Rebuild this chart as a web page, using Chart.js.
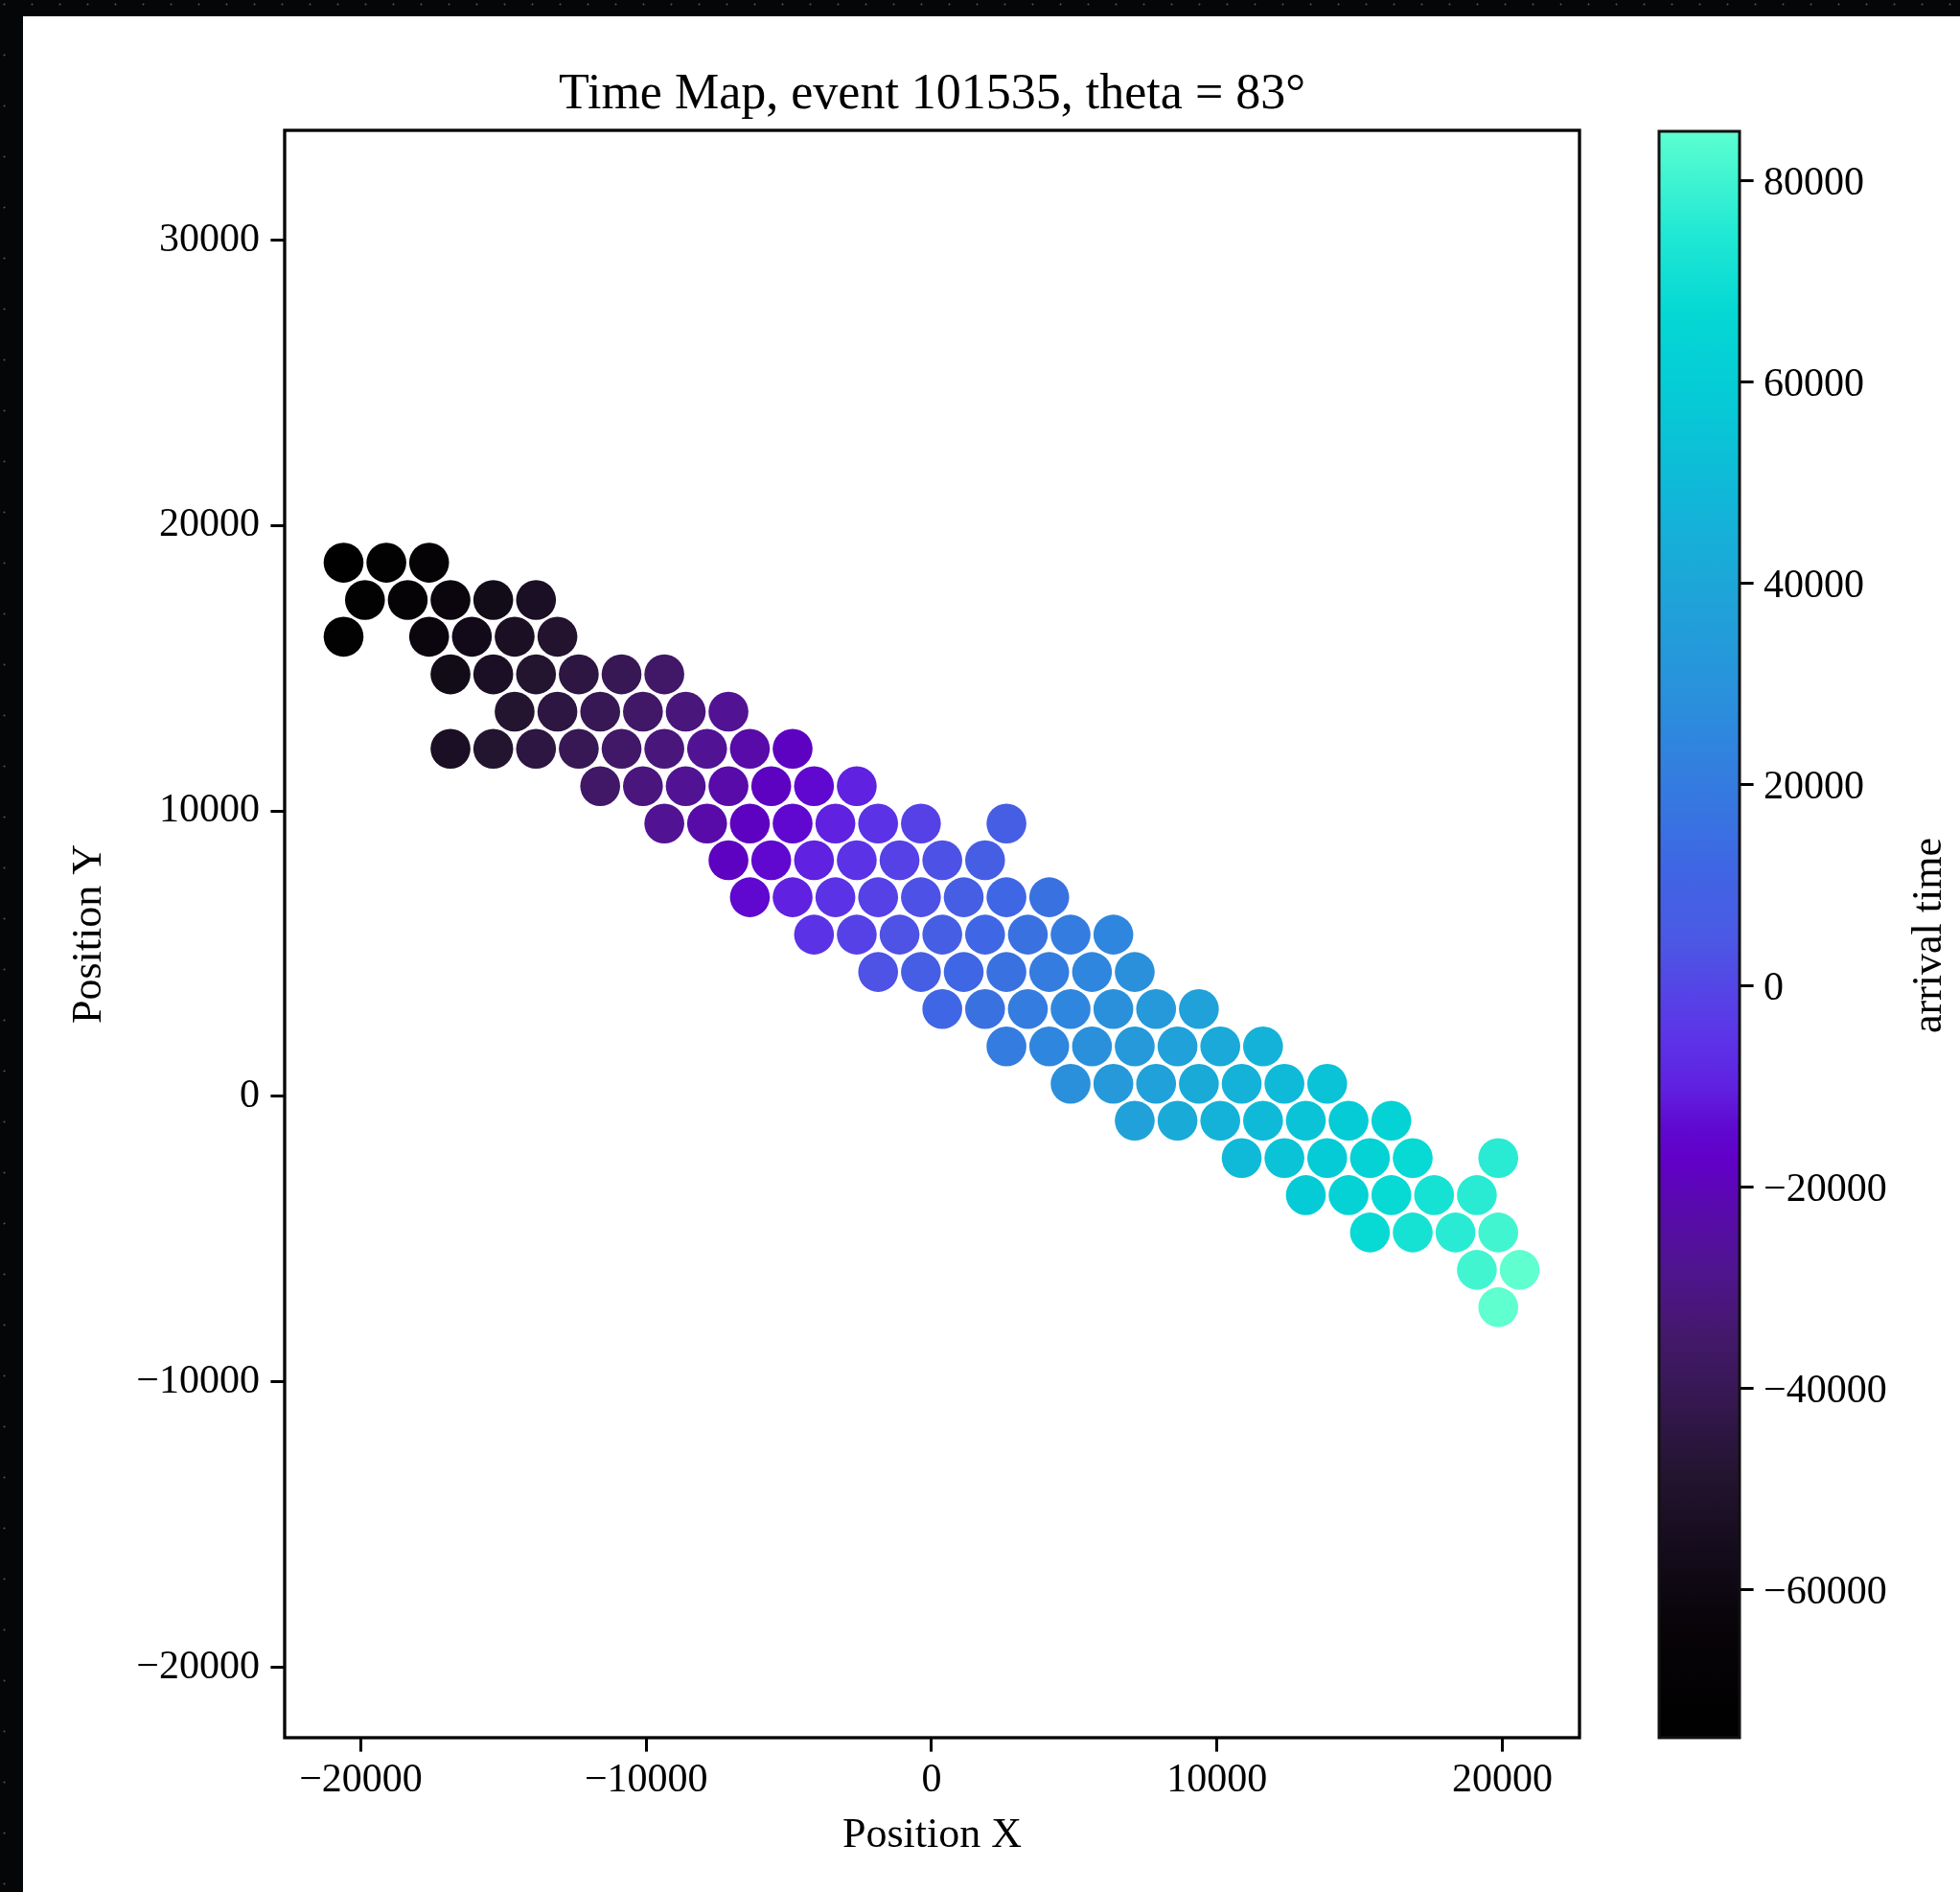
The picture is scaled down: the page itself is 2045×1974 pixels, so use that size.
<!DOCTYPE html>
<html>
<head>
<meta charset="utf-8">
<title>Time Map</title>
<script src="https://cdn.jsdelivr.net/npm/chart.js@4.4.1/dist/chart.umd.min.js"></script>
<style>
  html, body { margin: 0; padding: 0; }
  body {
    width: 2045px; height: 1974px; overflow: hidden; position: relative;
    background-color: #050608;
    background-image: radial-gradient(circle, rgba(255,205,140,0.55) 0.8px, transparent 1.6px),
                      radial-gradient(circle, rgba(200,210,255,0.35) 0.7px, transparent 1.4px);
    background-size: 41px 67px, 29px 53px;
    background-position: 7px 11px, 19px 31px;
  }
  #panel { position: absolute; left: 24px; top: 17px; width: 2021px; height: 1957px; background: #fff; }
  #mapa { position: absolute; left: 24px; top: 17px; }
  #barra { position: absolute; left: 1714px; top: 17px; }
</style>
</head>
<body>
<div id="panel"></div>
<canvas id="mapa" width="1690" height="1957"></canvas>
<canvas id="barra" width="331" height="1957"></canvas>
<script>
// Posiciones de las estaciones (m), una fila de la grilla por linea
const posX = [
  -20605, -19106, -17608,
  -19856, -18357, -16859, -15360, -13861,
  -20605, -17608, -16109, -14611, -13112,
  -16859, -15360, -13861, -12363, -10864, -9366,
  -14611, -13112, -11613, -10115, -8616, -7118,
  -16859, -15360, -13861, -12363, -10864, -9366, -7867, -6368, -4870,
  -11613, -10115, -8616, -7118, -5619, -4120, -2622,
  -9366, -7867, -6368, -4870, -3371, -1873, -374, 2623,
  -7118, -5619, -4120, -2622, -1123, 375, 1874,
  -6368, -4870, -3371, -1873, -374, 1125, 2623, 4122,
  -4120, -2622, -1123, 375, 1874, 3373, 4871, 6370,
  -1873, -374, 1125, 2623, 4122, 5621, 7119,
  375, 1874, 3373, 4871, 6370, 7868, 9367,
  2623, 4122, 5621, 7119, 8618, 10116, 11615,
  4871, 6370, 7868, 9367, 10866, 12364, 13863,
  7119, 8618, 10116, 11615, 13114, 14612, 16111,
  10866, 12364, 13863, 15361, 16860, 19857,
  13114, 14612, 16111, 17609, 19108,
  15361, 16860, 18359, 19857,
  19108, 20607,
  19857
];

const posY = [
  18701, 18701, 18701,
  17393, 17393, 17393, 17393, 17393,
  16107, 16107, 16107, 16107, 16107,
  14789, 14789, 14789, 14789, 14789, 14789,
  13480, 13480, 13480, 13480, 13480, 13480,
  12181, 12181, 12181, 12181, 12181, 12181, 12181, 12181, 12181,
  10872, 10872, 10872, 10872, 10872, 10872, 10872,
  9564, 9564, 9564, 9564, 9564, 9564, 9564, 9564,
  8279, 8279, 8279, 8279, 8279, 8279, 8279,
  6980, 6980, 6980, 6980, 6980, 6980, 6980, 6980,
  5671, 5671, 5671, 5671, 5671, 5671, 5671, 5671,
  4362, 4362, 4362, 4362, 4362, 4362, 4362,
  3064, 3064, 3064, 3064, 3064, 3064, 3064,
  1755, 1755, 1755, 1755, 1755, 1755, 1755,
  446, 446, 446, 446, 446, 446, 446,
  -849, -849, -849, -849, -849, -849, -849,
  -2158, -2158, -2158, -2158, -2158, -2158,
  -3456, -3456, -3456, -3456, -3456,
  -4765, -4765, -4765, -4765,
  -6074, -6074,
  -7383
];

// Tiempo de llegada (ns)
const arrivalTime = [
  -74670, -70360, -66050,
  -70350, -66040, -61730, -57420, -53110,
  -70370, -61750, -57440, -53130, -48820,
  -57410, -53100, -48790, -44480, -40170, -35860,
  -48770, -44460, -40150, -35850, -31540, -27230,
  -53080, -48770, -44460, -40150, -35840, -31540, -27230, -22920, -18610,
  -35830, -31520, -27210, -22900, -18590, -14280, -9980,
  -27190, -22880, -18570, -14270, -9960, -5650, -1340, 7280,
  -18600, -14290, -9980, -5670, -1360, 2950, 7260,
  -14290, -9980, -5670, -1360, 2950, 7260, 11570, 15870,
  -5650, -1340, 2970, 7280, 11580, 15890, 20200, 24510,
  2990, 7290, 11600, 15910, 20220, 24530, 28840,
  11600, 15910, 20220, 24530, 28840, 33150, 37450,
  20240, 24550, 28860, 33160, 37470, 41780, 46090,
  28870, 33180, 37490, 41800, 46110, 50420, 54720,
  37490, 41790, 46100, 50410, 54720, 59030, 63340,
  50430, 54740, 59050, 63360, 67660, 76280,
  59050, 63360, 67660, 71970, 76280,
  67680, 71990, 76300, 80610,
  80630, 84930,
  84950
];

const xTicks = [-20000, -10000, 0, 10000, 20000];
const yTicks = [-20000, -10000, 0, 10000, 20000, 30000];
const cbTicks = [-60000, -40000, -20000, 0, 20000, 40000, 60000, 80000];

// Mapa de colores (fraccion -> color)
const cmapStops = [0, 0.069, 0.117, 0.165, 0.213, 0.251, 0.293, 0.334, 0.359, 0.379, 0.404, 0.436,
  0.468, 0.5, 0.536, 0.585, 0.648, 0.712, 0.776, 0.84, 0.888, 0.936, 0.993, 1];
const cmapColors = ["#000000", "#080408", "#140c1c", "#241430", "#361852", "#44186c", "#501490",
  "#5a08b0", "#6000c8", "#6008d0", "#6020e0", "#5c34e8", "#5446e6", "#4a5ae4", "#4064e4", "#3678e0",
  "#2a90dc", "#1ea4d8", "#10b8d8", "#05ccd6", "#05d8d4", "#20e8d4", "#55fcd0", "#5fffd0"];

const tMin = Math.min(...arrivalTime);
const tMax = Math.max(...arrivalTime);

const fuente = "'Liberation Serif', 'DejaVu Serif', serif";

function hexToRgb(h) {
  const n = parseInt(h.slice(1), 16);
  return [n >> 16, (n >> 8) & 255, n & 255];
}

function colorFor(t) {
  const f = Math.min(1, Math.max(0, (t - tMin) / (tMax - tMin)));
  for (let i = 1; i < cmapStops.length; i++) {
    if (f <= cmapStops[i]) {
      const a = hexToRgb(cmapColors[i - 1]);
      const b = hexToRgb(cmapColors[i]);
      const k = (f - cmapStops[i - 1]) / (cmapStops[i] - cmapStops[i - 1]);
      const c = a.map((v, j) => Math.round(v + (b[j] - v) * k));
      return `rgb(${c[0]},${c[1]},${c[2]})`;
    }
  }
  return cmapColors[cmapColors.length - 1];
}

const fmt = v => v < 0 ? "\u2212" + Math.abs(v) : String(v);

const puntos = posX.map((x, i) => ({ x: x, y: posY[i] }));
const colores = arrivalTime.map(colorFor);

// Marco negro alrededor del area del grafico
const marco = {
  id: "marco",
  afterDraw(chart) {
    const { ctx, chartArea: a } = chart;
    ctx.save();
    ctx.strokeStyle = "#000";
    ctx.lineWidth = 3.3;
    ctx.strokeRect(a.left, a.top, a.right - a.left, a.bottom - a.top);
    ctx.restore();
  }
};

const tickGrid = { display: true, drawOnChartArea: false, drawTicks: true, tickLength: 14.6, tickWidth: 3, tickColor: "#000" };

new Chart(document.getElementById("mapa"), {
  type: "scatter",
  data: {
    datasets: [{
      data: puntos,
      backgroundColor: colores,
      borderWidth: 0,
      pointRadius: 20.8,
      pointHoverRadius: 20.8
    }]
  },
  options: {
    responsive: false,
    animation: false,
    events: [],
    layout: { padding: { left: 0, right: 66, top: 0, bottom: 0 } },
    plugins: {
      legend: { display: false },
      tooltip: { enabled: false },
      title: {
        display: true,
        fullSize: false,
        text: "Time Map, event 101535, theta = 83°",
        color: "#000",
        font: { family: fuente, size: 52, weight: "normal" },
        padding: { top: 51.4, bottom: 5.2 }
      }
    },
    scales: {
      x: {
        type: "linear",
        min: -22670,
        max: 22704,
        afterFit: s => { s.height = 161; },
        afterBuildTicks: s => { s.ticks = xTicks.map(v => ({ value: v })); },
        ticks: { callback: fmt, color: "#000", padding: 5, maxRotation: 0, autoSkip: false, font: { family: fuente, size: 42 } },
        grid: tickGrid,
        border: { display: false },
        title: { display: true, text: "Position X", color: "#000", font: { family: fuente, size: 44 }, padding: { top: 0, bottom: 32.6 } }
      },
      y: {
        type: "linear",
        min: -22465,
        max: 33848,
        afterFit: s => { s.width = 273; },
        afterBuildTicks: s => { s.ticks = yTicks.map(v => ({ value: v })); },
        ticks: { callback: fmt, color: "#000", padding: 11.4, autoSkip: false, font: { family: fuente, size: 42 } },
        grid: tickGrid,
        border: { display: false },
        title: { display: true, text: "Position Y", color: "#000", font: { family: fuente, size: 44 }, padding: { top: 42.6, bottom: 0 } }
      }
    }
  },
  plugins: [marco]
});

// Barra de colores
const barraColor = {
  id: "barraColor",
  beforeDatasetsDraw(chart) {
    const { ctx, chartArea: a } = chart;
    const g = ctx.createLinearGradient(0, a.bottom, 0, a.top);
    cmapStops.forEach((s, i) => g.addColorStop(s, cmapColors[i]));
    ctx.save();
    ctx.fillStyle = g;
    ctx.fillRect(a.left, a.top, a.right - a.left, a.bottom - a.top);
    ctx.strokeStyle = "#111";
    ctx.lineWidth = 3;
    ctx.strokeRect(a.left, a.top, a.right - a.left, a.bottom - a.top);
    ctx.restore();
  },
  afterDraw(chart) {
    const ctx = chart.ctx;
    ctx.save();
    ctx.translate(299, 959);
    ctx.rotate(-Math.PI / 2);
    ctx.fillStyle = "#000";
    ctx.font = `44px ${fuente}`;
    ctx.textAlign = "center";
    ctx.textBaseline = "middle";
    ctx.fillText("arrival time", 0, 0);
    ctx.restore();
  }
};

new Chart(document.getElementById("barra"), {
  type: "scatter",
  data: { datasets: [] },
  options: {
    responsive: false,
    animation: false,
    events: [],
    layout: { padding: { left: 17, right: 0, top: 120, bottom: 161 } },
    plugins: { legend: { display: false }, tooltip: { enabled: false } },
    scales: {
      x: { display: false, min: 0, max: 1 },
      y: {
        type: "linear",
        position: "right",
        min: tMin,
        max: tMax,
        afterFit: s => { s.width = 230; },
        afterBuildTicks: s => { s.ticks = cbTicks.map(v => ({ value: v })); },
        ticks: { callback: fmt, color: "#000", padding: 10.4, labelOffset: 2.6, autoSkip: false, font: { family: fuente, size: 42 } },
        grid: tickGrid,
        border: { display: false }
      }
    }
  },
  plugins: [barraColor]
});
</script>
</body>
</html>
